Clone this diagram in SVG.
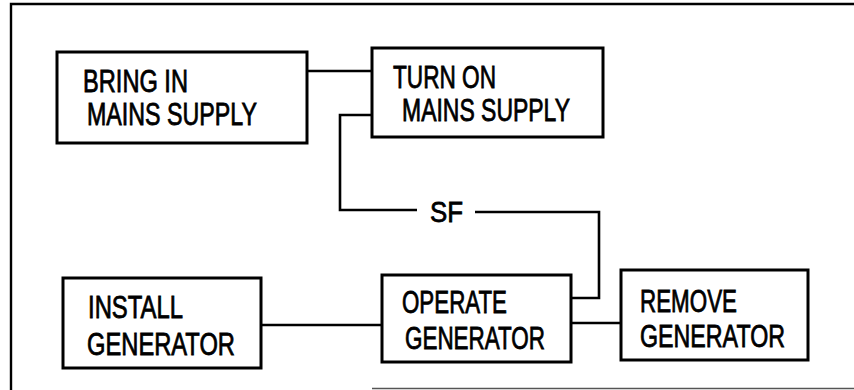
<svg xmlns="http://www.w3.org/2000/svg" width="854" height="390" viewBox="0 0 854 390">
<style>
.box{fill:#fff;stroke:#000;stroke-width:3}
.ln{fill:none;stroke:#000;stroke-width:2.6}
.fr{fill:none;stroke:#000;stroke-width:2.4}
text{font-family:"Liberation Sans",Arial,sans-serif;font-size:31px;fill:#000;stroke:#000;stroke-width:0.8}
</style>
<rect width="854" height="390" fill="#fff"/>
<g id="frame">
<polyline class="fr" points="11,390 11,4 854,4"/>
<line x1="372" y1="388.5" x2="854" y2="388.5" stroke="#555" stroke-width="1.5"/>
</g>
<g id="connectors">
<line class="ln" x1="307" y1="71" x2="372" y2="71"/>
<polyline class="ln" points="372,115 340,115 340,210 417,210"/>
<polyline class="ln" points="475,212 599,212 599,298 571,298"/>
<line class="ln" x1="261" y1="325" x2="382" y2="325"/>
<line class="ln" x1="571" y1="323" x2="621" y2="323"/>
</g>
<g id="sf">
<text x="430" y="222" textLength="33" lengthAdjust="spacingAndGlyphs" style="font-size:29px">SF</text>
</g>
<g id="bring-in">
<rect class="box" x="57" y="52" width="250" height="91"/>
<text x="83" y="92" textLength="105" lengthAdjust="spacingAndGlyphs">BRING IN</text>
<text x="87" y="125" textLength="170" lengthAdjust="spacingAndGlyphs">MAINS SUPPLY</text>
</g>
<g id="turn-on">
<rect class="box" x="372" y="48" width="231" height="89"/>
<text x="393" y="88" textLength="103" lengthAdjust="spacingAndGlyphs">TURN ON</text>
<text x="402" y="121" textLength="168" lengthAdjust="spacingAndGlyphs">MAINS SUPPLY</text>
</g>
<g id="install">
<rect class="box" x="63" y="278" width="198" height="90"/>
<text x="88" y="318" textLength="95" lengthAdjust="spacingAndGlyphs">INSTALL</text>
<text x="87" y="355" textLength="148" lengthAdjust="spacingAndGlyphs">GENERATOR</text>
</g>
<g id="operate">
<rect class="box" x="382" y="275" width="189" height="87"/>
<text x="402" y="313" textLength="105" lengthAdjust="spacingAndGlyphs">OPERATE</text>
<text x="405" y="349" textLength="140" lengthAdjust="spacingAndGlyphs">GENERATOR</text>
</g>
<g id="remove">
<rect class="box" x="621" y="270" width="187" height="90"/>
<text x="640" y="312" textLength="97" lengthAdjust="spacingAndGlyphs">REMOVE</text>
<text x="640" y="347" textLength="145" lengthAdjust="spacingAndGlyphs">GENERATOR</text>
</g>
</svg>
